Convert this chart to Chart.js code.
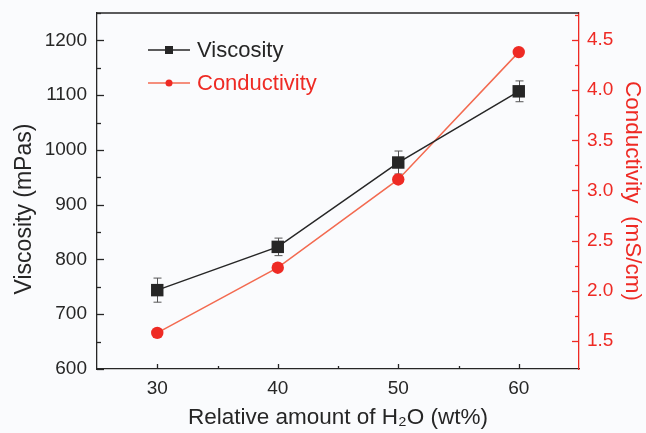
<!DOCTYPE html>
<html>
<head>
<meta charset="utf-8">
<script src="https://cdn.jsdelivr.net/npm/chart.js@4.4.1/dist/chart.umd.min.js"></script>
<style>
  html, body { margin: 0; padding: 0; background: #fafbfd; }
  #wrap { width: 646px; height: 433px; }
</style>
</head>
<body>
<div id="wrap"><canvas id="chart" width="646" height="433"></canvas></div>
<script>
// data
const waterContent = [30, 40, 50, 60];            // wt% H2O
const viscosity = [744, 823, 977, 1107];          // mPas
const viscosityErr = [22, 16, 21, 19];            // +/- mPas
const conductivity = [1.58, 2.23, 3.11, 4.38];    // mS/cm

const xTicks = [30, 40, 50, 60];
const viscTicks = [600, 700, 800, 900, 1000, 1100, 1200];
const condTicks = [1.5, 2.0, 2.5, 3.0, 3.5, 4.0, 4.5];

const DARK = '#262626';
const RED = '#ee2a24';
const RED_LINE = '#f36a50';
const FONT = 'Liberation Sans, Arial, sans-serif';

// inward tick marks on all three axes (major + minor), plus the top frame line
const frameTicks = {
    id: 'frameTicks',
    afterDraw(chart) {
        const ctx = chart.ctx;
        const area = chart.chartArea;
        const x = chart.scales.x, yL = chart.scales.y, yR = chart.scales.y1;
        ctx.save();
        ctx.lineWidth = 1.3;

        ctx.strokeStyle = DARK;
        ctx.beginPath();
        ctx.moveTo(area.left, area.top);
        ctx.lineTo(area.right, area.top);
        ctx.stroke();

        const mark = (scale, values, len, horizontal, side) => {
            values.forEach(v => {
                const p = Math.round(scale.getPixelForValue(v)) + 0.5;
                ctx.beginPath();
                if (horizontal) {
                    ctx.moveTo(p, area.bottom);
                    ctx.lineTo(p, area.bottom - len);
                } else if (side === 'left') {
                    ctx.moveTo(area.left, p);
                    ctx.lineTo(area.left + len, p);
                } else {
                    ctx.moveTo(area.right, p);
                    ctx.lineTo(area.right - len, p);
                }
                ctx.stroke();
            });
        };
        const mids = arr => arr.slice(0, -1).map((v, i) => (v + arr[i + 1]) / 2)
            .concat([arr[arr.length - 1] + (arr[1] - arr[0]) / 2]);

        ctx.strokeStyle = DARK;
        mark(x, xTicks, 5, true);
        mark(x, [35, 45, 55], 3, true);
        mark(yL, viscTicks, 7, false, 'left');
        mark(yL, mids(viscTicks), 4, false, 'left');
        ctx.strokeStyle = RED;
        mark(yR, condTicks, 7, false, 'right');
        mark(yR, mids(condTicks), 4, false, 'right');

        // left axis title (sits a bit below the middle in the original)
        ctx.fillStyle = DARK;
        ctx.font = '23px ' + FONT;
        ctx.textAlign = 'center';
        ctx.textBaseline = 'middle';
        ctx.translate(25, 209);
        ctx.rotate(-Math.PI / 2);
        ctx.fillText('Viscosity (mPas)', 0, 0);
        ctx.restore();
    }
};

// error bars for viscosity
const errorBars = {
    id: 'errorBars',
    beforeDatasetsDraw(chart) {
        const ctx = chart.ctx;
        const x = chart.scales.x, y = chart.scales.y;
        ctx.save();
        ctx.strokeStyle = '#555';
        ctx.lineWidth = 1;
        waterContent.forEach((w, i) => {
            const px = Math.round(x.getPixelForValue(w)) + 0.5;
            const top = y.getPixelForValue(viscosity[i] + viscosityErr[i]);
            const bot = y.getPixelForValue(viscosity[i] - viscosityErr[i]);
            ctx.beginPath();
            ctx.moveTo(px, top); ctx.lineTo(px, bot);
            ctx.moveTo(px - 4, top); ctx.lineTo(px + 4, top);
            ctx.moveTo(px - 4, bot); ctx.lineTo(px + 4, bot);
            ctx.stroke();
        });
        ctx.restore();
    }
};

// legend drawn inside the plot, top left
const insideLegend = {
    id: 'insideLegend',
    afterDraw(chart) {
        const ctx = chart.ctx;
        const area = chart.chartArea;
        const x0 = area.left + 51, x1 = area.left + 93, xm = area.left + 72;
        const rows = [
            { y: area.top + 37, color: DARK, line: DARK, text: 'Viscosity', square: true },
            { y: area.top + 70, color: RED, line: RED_LINE, text: 'Conductivity', square: false }
        ];
        ctx.save();
        ctx.font = '22px ' + FONT;
        ctx.textBaseline = 'middle';
        rows.forEach(r => {
            ctx.strokeStyle = r.line;
            ctx.lineWidth = 1.5;
            ctx.beginPath();
            ctx.moveTo(x0, r.y); ctx.lineTo(x1, r.y);
            ctx.stroke();
            ctx.fillStyle = r.color;
            if (r.square) {
                ctx.fillRect(xm - 4, r.y - 4, 8, 8);
            } else {
                ctx.beginPath();
                ctx.arc(xm, r.y, 3.5, 0, Math.PI * 2);
                ctx.fill();
            }
            ctx.fillText(r.text, area.left + 100, r.y + 1);
        });
        ctx.restore();
    }
};

const background = {
    id: 'background',
    beforeDraw(chart) {
        const ctx = chart.ctx;
        ctx.save();
        ctx.fillStyle = '#fafbfd';
        ctx.fillRect(0, 0, chart.width, chart.height);
        ctx.restore();
    }
};

const fixedTicks = arr => scale => { scale.ticks = arr.map(v => ({ value: v })); };
const noPad = s => { s.paddingTop = 0; s.paddingBottom = 0; s.paddingLeft = 0; s.paddingRight = 0; };

new Chart(document.getElementById('chart'), {
    type: 'line',
    data: {
        datasets: [
            {
                label: 'Viscosity',
                data: waterContent.map((w, i) => ({ x: w, y: viscosity[i] })),
                yAxisID: 'y',
                borderColor: DARK,
                backgroundColor: DARK,
                borderWidth: 1.5,
                pointStyle: 'rect',
                pointRadius: 8.8,
                pointBorderWidth: 0,
                tension: 0
            },
            {
                label: 'Conductivity',
                data: waterContent.map((w, i) => ({ x: w, y: conductivity[i] })),
                yAxisID: 'y1',
                borderColor: RED_LINE,
                backgroundColor: RED,
                borderWidth: 1.5,
                pointStyle: 'circle',
                pointRadius: 6.2,
                pointBorderWidth: 0,
                tension: 0
            }
        ]
    },
    options: {
        responsive: false,
        animation: false,
        devicePixelRatio: 1,
        layout: { padding: { top: 13, left: 0, right: 0, bottom: 0 } },
        plugins: { legend: { display: false }, tooltip: { enabled: false } },
        scales: {
            x: {
                type: 'linear',
                min: 25, max: 65,
                afterBuildTicks: fixedTicks(xTicks),
                afterFit: s => { s.height = 64; noPad(s); },
                grid: { display: false, drawTicks: false },
                border: { display: true, color: DARK, width: 1.3 },
                ticks: { color: DARK, padding: 8, font: { family: FONT, size: 19 } },
                title: {
                    display: true,
                    text: 'Relative amount of H\u2082O (wt%)',
                    color: DARK,
                    font: { family: FONT, size: 22.5 },
                    padding: { top: 0, bottom: 2 }
                }
            },
            y: {
                type: 'linear',
                position: 'left',
                min: 600, max: 1250,
                afterBuildTicks: fixedTicks(viscTicks),
                afterFit: s => { s.width = 97; noPad(s); },
                grid: { display: false, drawTicks: false },
                border: { display: true, color: DARK, width: 1.3 },
                ticks: {
                    color: DARK, padding: 10,
                    font: { family: FONT, size: 19 },
                    callback: v => String(v)
                }
            },
            y1: {
                type: 'linear',
                position: 'right',
                min: 1.22, max: 4.77,
                afterBuildTicks: fixedTicks(condTicks),
                afterFit: s => { s.width = 67; noPad(s); },
                grid: { display: false, drawTicks: false },
                border: { display: true, color: RED, width: 1.3 },
                ticks: {
                    color: RED, padding: 8,
                    font: { family: FONT, size: 19 },
                    callback: v => v.toFixed(1)
                },
                title: {
                    display: true,
                    text: 'Conductivity  (mS/cm)',
                    color: RED,
                    font: { family: FONT, size: 22.5 },
                    padding: { top: 0, bottom: 0 }
                }
            }
        }
    },
    plugins: [background, errorBars, frameTicks, insideLegend]
});
</script>
</body>
</html>
